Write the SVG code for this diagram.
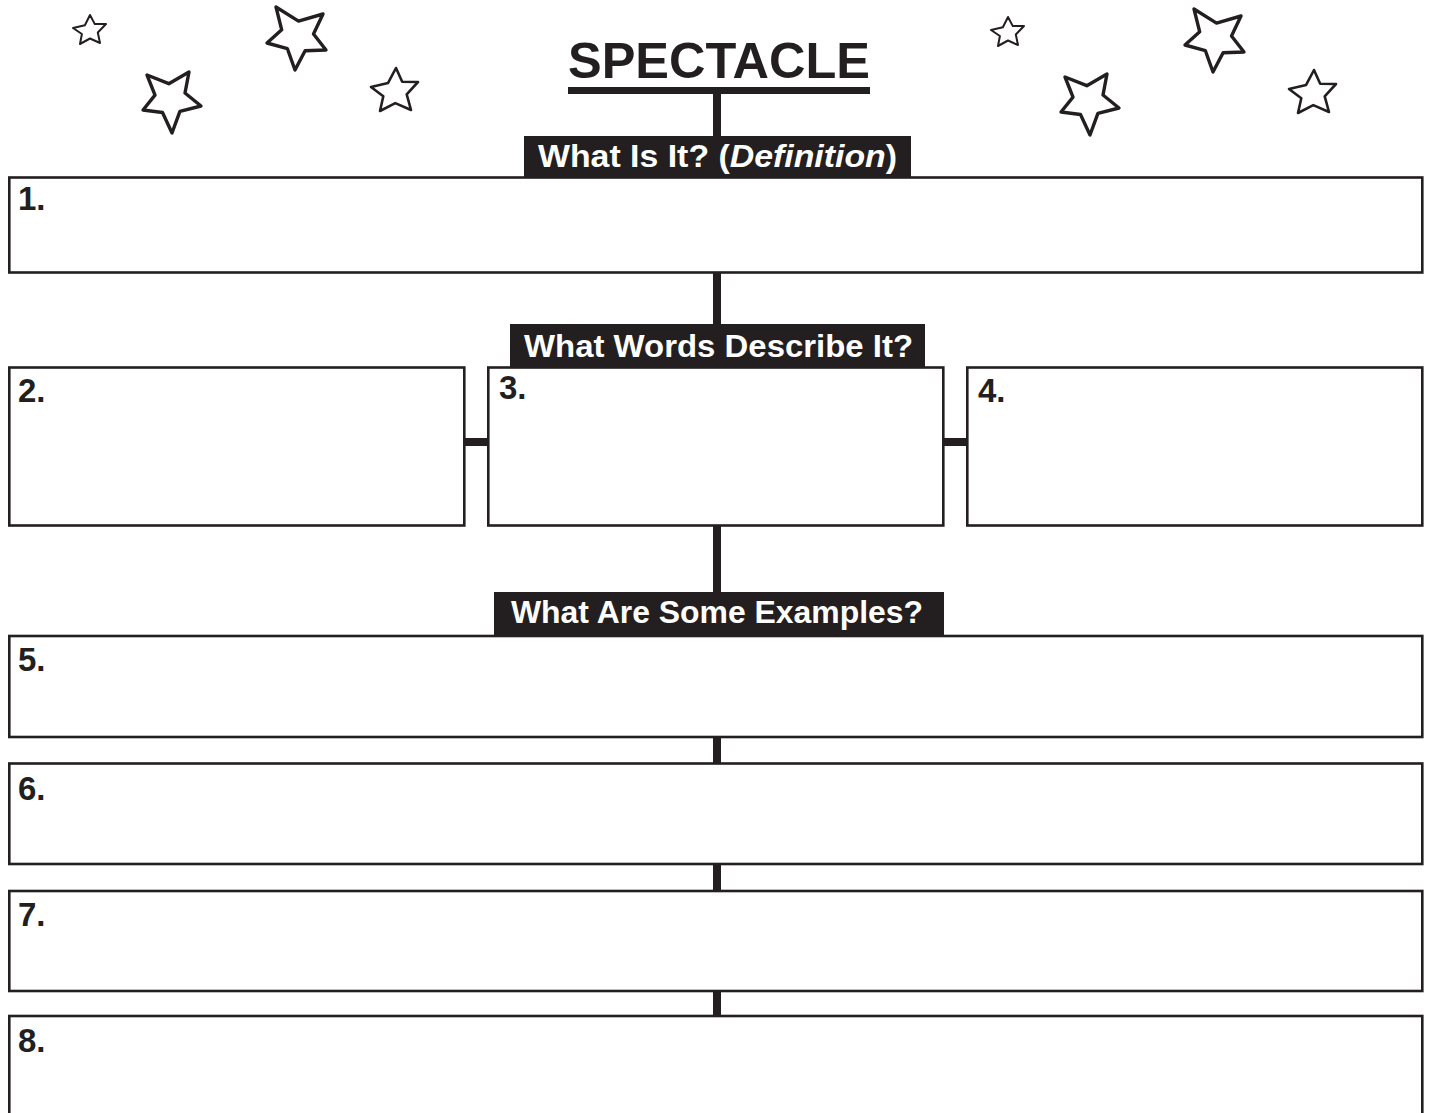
<svg xmlns="http://www.w3.org/2000/svg" width="1430" height="1113" viewBox="0 0 1430 1113">
<style>
.box{fill:#fff;stroke:#231f20;stroke-width:2.6}
.lbl{fill:#231f20}
.lt{fill:#fff;font-family:"Liberation Sans",Arial,sans-serif;font-weight:bold;font-size:31px}
.num{fill:#231f20;font-family:"Liberation Sans",Arial,sans-serif;font-weight:bold;font-size:33px}
.conn{stroke:#231f20;stroke-width:8;fill:none}
.star{fill:none;stroke:#231f20;stroke-linejoin:round;stroke-linecap:round}
</style>
<defs>
<polygon id="s1" class="star" stroke-width="2" points="90,15 94.8,24.1 106,24 97.8,32.5 100,43 90,38.5 80,44 81.9,34 73,28 84.9,25.3"/>
<polygon id="s2" class="star" stroke-width="3.4" points="147,75 168.8,83.7 189,72 185,93 201,106 179.9,111.3 172,133 162.5,112.5 143,110 155,95.1"/>
<polygon id="s3" class="star" stroke-width="3.4" points="276,7 298.5,21.1 323,14 313.5,34 326,50 305.1,50.8 295,70 287.4,48.7 267,43 281.7,29.8"/>
<polygon id="s4" class="star" stroke-width="2.6" points="396,68 402.2,81.8 418,82 406.7,94.4 411,110 395.3,103.1 380,111 383.3,96.2 371,87 388.1,82.9"/>
</defs>
<rect width="1430" height="1113" fill="#fff"/>
<g id="stars-left">
<use href="#s1"/><use href="#s2"/><use href="#s3"/><use href="#s4"/>
</g>
<g id="stars-right" transform="translate(918,2)">
<use href="#s1"/><use href="#s2"/><use href="#s3"/><use href="#s4"/>
</g>
<g id="title">
<text x="568" y="78" textLength="302" lengthAdjust="spacingAndGlyphs" style="font-family:'Liberation Sans',Arial,sans-serif;font-weight:bold;font-size:50px;fill:#231f20">SPECTACLE</text>
<rect x="568" y="87" width="302" height="7" fill="#231f20"/>
</g>
<g id="connectors">
<line class="conn" x1="717" y1="93" x2="717" y2="137"/>
<line class="conn" x1="717" y1="272" x2="717" y2="325"/>
<line class="conn" x1="464" y1="442" x2="489" y2="442"/>
<line class="conn" x1="943" y1="442" x2="968" y2="442"/>
<line class="conn" x1="717" y1="525" x2="717" y2="593"/>
<line class="conn" x1="717" y1="736" x2="717" y2="764"/>
<line class="conn" x1="717" y1="863" x2="717" y2="891"/>
<line class="conn" x1="717" y1="990" x2="717" y2="1016"/>
</g>
<g id="box1"><rect class="box" x="9.3" y="177.5" width="1413" height="95"/><text class="num" x="18" y="210">1.</text></g>
<g id="box2"><rect class="box" x="9.3" y="367.5" width="455" height="158"/><text class="num" x="18" y="402">2.</text></g>
<g id="box3"><rect class="box" x="488.3" y="367.5" width="455" height="158"/><text class="num" x="499" y="399">3.</text></g>
<g id="box4"><rect class="box" x="967.3" y="367.5" width="455" height="158"/><text class="num" x="978" y="402">4.</text></g>
<g id="box5"><rect class="box" x="9.3" y="636" width="1413" height="101"/><text class="num" x="18" y="671">5.</text></g>
<g id="box6"><rect class="box" x="9.3" y="763.5" width="1413" height="100.5"/><text class="num" x="18" y="800">6.</text></g>
<g id="box7"><rect class="box" x="9.3" y="891" width="1413" height="100"/><text class="num" x="18" y="926">7.</text></g>
<g id="box8"><rect class="box" x="9.3" y="1016" width="1413" height="120"/><text class="num" x="18" y="1052">8.</text></g>
<g id="label1"><rect class="lbl" x="524" y="136" width="387" height="42"/><text class="lt" x="538" y="167" textLength="359" lengthAdjust="spacingAndGlyphs">What Is It? (<tspan font-style="italic">Definition</tspan>)</text></g>
<g id="label2"><rect class="lbl" x="510" y="324" width="415" height="44"/><text class="lt" x="524" y="357" textLength="389" lengthAdjust="spacingAndGlyphs">What Words Describe It?</text></g>
<g id="label3"><rect class="lbl" x="494" y="592" width="450" height="44"/><text class="lt" x="511" y="623" textLength="412" lengthAdjust="spacingAndGlyphs">What Are Some Examples?</text></g>
</svg>
